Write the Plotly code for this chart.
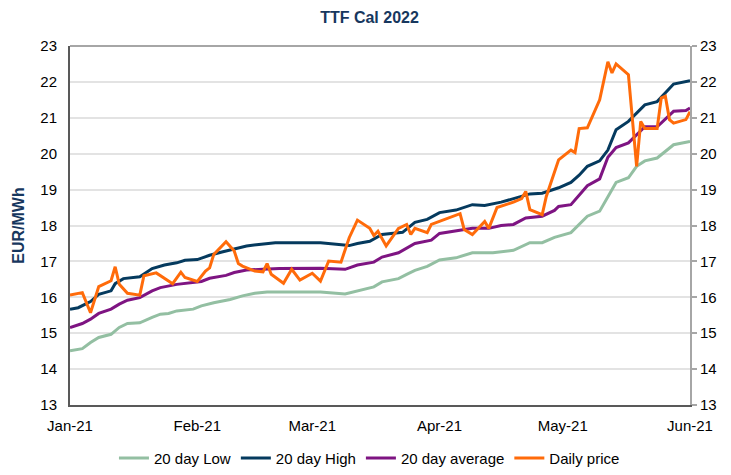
import plotly.graph_objects as go

# TTF Cal 2022 (EUR/MWh)
low_dates = ["2021-01-01", "2021-01-04", "2021-01-06", "2021-01-08", "2021-01-11", "2021-01-13",
             "2021-01-15", "2021-01-18", "2021-01-21", "2021-01-23", "2021-01-25", "2021-01-27",
             "2021-01-31", "2021-02-02", "2021-02-05", "2021-02-09", "2021-02-12", "2021-02-15",
             "2021-02-18", "2021-03-03", "2021-03-09", "2021-03-12", "2021-03-16", "2021-03-18",
             "2021-03-22", "2021-03-24", "2021-03-26", "2021-03-29", "2021-04-01", "2021-04-05",
             "2021-04-09", "2021-04-14", "2021-04-19", "2021-04-23", "2021-04-26", "2021-04-29",
             "2021-05-03", "2021-05-07", "2021-05-10", "2021-05-14", "2021-05-17", "2021-05-19",
             "2021-05-21", "2021-05-24", "2021-05-26", "2021-05-28", "2021-06-01"]
low_vals = [14.51, 14.57, 14.74, 14.88, 14.97, 15.16,
            15.27, 15.29, 15.44, 15.53, 15.55, 15.62,
            15.67, 15.76, 15.85, 15.94, 16.04, 16.11,
            16.15, 16.15, 16.09, 16.18, 16.29, 16.43,
            16.52, 16.64, 16.75, 16.86, 17.04, 17.10,
            17.24, 17.24, 17.31, 17.52, 17.52, 17.67,
            17.80, 18.26, 18.40, 19.20, 19.33, 19.65,
            19.80, 19.88, 20.07, 20.25, 20.34]

high_dates = ["2021-01-01", "2021-01-03", "2021-01-06", "2021-01-08", "2021-01-11", "2021-01-12",
              "2021-01-14", "2021-01-18", "2021-01-21", "2021-01-24", "2021-01-27", "2021-01-29",
              "2021-02-01", "2021-02-04", "2021-02-07", "2021-02-10", "2021-02-13", "2021-02-16",
              "2021-02-20", "2021-03-03", "2021-03-08", "2021-03-10", "2021-03-12", "2021-03-15",
              "2021-03-18", "2021-03-23", "2021-03-26", "2021-03-29", "2021-04-01", "2021-04-05",
              "2021-04-09", "2021-04-12", "2021-04-16", "2021-04-21", "2021-04-23", "2021-04-26",
              "2021-04-30", "2021-05-03", "2021-05-05", "2021-05-07", "2021-05-10", "2021-05-12",
              "2021-05-14", "2021-05-17", "2021-05-19", "2021-05-21", "2021-05-24", "2021-05-26",
              "2021-05-28", "2021-06-01"]
high_vals = [15.67, 15.71, 15.88, 16.08, 16.18, 16.38,
             16.52, 16.57, 16.80, 16.90, 16.96, 17.03,
             17.05, 17.17, 17.26, 17.35, 17.43, 17.47,
             17.52, 17.52, 17.47, 17.44, 17.50, 17.56,
             17.75, 17.81, 18.09, 18.17, 18.36, 18.43,
             18.58, 18.56, 18.65, 18.80, 18.88, 18.90,
             19.05, 19.20, 19.40, 19.65, 19.80, 20.10,
             20.67, 20.90, 21.13, 21.36, 21.45, 21.70,
             21.94, 22.03]

avg_dates = ["2021-01-01", "2021-01-04", "2021-01-06", "2021-01-08", "2021-01-11", "2021-01-13",
             "2021-01-15", "2021-01-18", "2021-01-21", "2021-01-23", "2021-01-27", "2021-01-30",
             "2021-02-02", "2021-02-04", "2021-02-08", "2021-02-10", "2021-02-13", "2021-02-17",
             "2021-02-21", "2021-03-03", "2021-03-09", "2021-03-12", "2021-03-16", "2021-03-18",
             "2021-03-22", "2021-03-26", "2021-03-30", "2021-04-01", "2021-04-05", "2021-04-09",
             "2021-04-13", "2021-04-16", "2021-04-19", "2021-04-22", "2021-04-26", "2021-04-29",
             "2021-04-30", "2021-05-03", "2021-05-07", "2021-05-10", "2021-05-12", "2021-05-14",
             "2021-05-17", "2021-05-19", "2021-05-21", "2021-05-24", "2021-05-26", "2021-05-28",
             "2021-05-31", "2021-06-01"]
avg_vals = [15.16, 15.27, 15.39, 15.55, 15.67, 15.81,
            15.92, 15.99, 16.18, 16.27, 16.36, 16.40,
            16.44, 16.53, 16.61, 16.69, 16.76, 16.78,
            16.80, 16.81, 16.78, 16.90, 16.98, 17.12,
            17.24, 17.50, 17.59, 17.78, 17.84, 17.92,
            17.92, 18.00, 18.03, 18.21, 18.26, 18.42,
            18.53, 18.58, 19.11, 19.30, 19.90, 20.17,
            20.30, 20.53, 20.75, 20.75, 20.97, 21.18,
            21.20, 21.27]

price_dates = ["2021-01-01", "2021-01-04", "2021-01-06", "2021-01-08", "2021-01-11", "2021-01-12",
               "2021-01-13", "2021-01-15", "2021-01-18", "2021-01-19", "2021-01-22", "2021-01-26",
               "2021-01-28", "2021-01-29", "2021-02-01", "2021-02-03", "2021-02-04", "2021-02-05",
               "2021-02-08", "2021-02-10", "2021-02-11", "2021-02-12", "2021-02-15", "2021-02-17",
               "2021-02-18", "2021-02-19", "2021-02-22", "2021-02-24", "2021-02-26", "2021-03-01",
               "2021-03-03", "2021-03-05", "2021-03-08", "2021-03-10", "2021-03-12", "2021-03-15",
               "2021-03-16", "2021-03-17", "2021-03-19", "2021-03-22", "2021-03-24", "2021-03-25",
               "2021-03-26", "2021-03-29", "2021-03-30", "2021-04-06", "2021-04-07", "2021-04-09",
               "2021-04-12", "2021-04-13", "2021-04-15", "2021-04-19", "2021-04-21", "2021-04-22",
               "2021-04-23", "2021-04-26", "2021-04-27", "2021-04-30", "2021-05-03", "2021-05-04",
               "2021-05-05", "2021-05-07", "2021-05-10", "2021-05-12", "2021-05-13", "2021-05-14",
               "2021-05-17", "2021-05-19", "2021-05-20", "2021-05-21", "2021-05-24", "2021-05-25",
               "2021-05-26", "2021-05-27", "2021-05-28", "2021-05-31", "2021-06-01"]
price_vals = [16.06, 16.13, 15.57, 16.30, 16.46, 16.85,
              16.36, 16.11, 16.06, 16.60, 16.68, 16.38,
              16.70, 16.55, 16.44, 16.73, 16.82, 17.19,
              17.55, 17.29, 16.94, 16.87, 16.73, 16.71,
              16.94, 16.64, 16.39, 16.78, 16.48, 16.67,
              16.45, 17.01, 16.98, 17.66, 18.15, 17.92,
              17.72, 17.84, 17.43, 17.92, 18.03, 17.75,
              17.92, 17.80, 18.03, 18.33, 17.89, 17.75,
              18.11, 17.92, 18.50, 18.65, 18.75, 18.95,
              18.44, 18.30, 18.81, 19.83, 20.10, 20.03,
              20.70, 20.72, 21.50, 22.56, 22.25, 22.50,
              22.20, 19.65, 20.90, 20.70, 20.70, 21.55,
              21.60, 20.95, 20.85, 20.95, 21.17]

y_ticks = list(range(13, 24))

NAVY = "#17375E"
FONT = "Liberation Sans, Arial, sans-serif"

fig = go.Figure()
fig.add_trace(go.Scatter(x=low_dates, y=low_vals, name="20 day Low", mode="lines",
                         line=dict(color="#93BFA2", width=3)))
fig.add_trace(go.Scatter(x=high_dates, y=high_vals, name="20 day High", mode="lines",
                         line=dict(color="#053A5E", width=3)))
fig.add_trace(go.Scatter(x=avg_dates, y=avg_vals, name="20 day average", mode="lines",
                         line=dict(color="#7E1482", width=3)))
# daily price sits on the right-hand axis (same scale), drawn on top
fig.add_trace(go.Scatter(x=price_dates, y=price_vals, name="Daily price", mode="lines",
                         line=dict(color="#FF6B0A", width=3), yaxis="y2"))

# page body adds an 8px offset, so the figure is 8px smaller than the window
fig.update_layout(
    width=723, height=467,
    margin=dict(l=62, r=41, t=38, b=70, autoexpand=False),
    paper_bgcolor="white", plot_bgcolor="white",
    font=dict(family=FONT, size=15, color="black"),
    title=dict(text="<b>TTF Cal 2022</b>", x=0.5, xanchor="center", y=0.979, yanchor="middle",
               font=dict(family=FONT, size=16, color=NAVY)),
    xaxis=dict(type="date", range=["2021-01-01", "2021-06-01"], dtick="M1", tick0="2021-01-01",
               tickformat="%b-%y", showgrid=False, showline=True, linecolor="#595959",
               linewidth=2, ticks="", ticklabelstandoff=6, zeroline=False, automargin=False),
    yaxis=dict(range=[13, 23], tickvals=y_ticks, showgrid=True, gridcolor="#E3E3E3",
               gridwidth=1.5, showline=True, linecolor="#595959", linewidth=2, ticks="",
               zeroline=False, ticklabelstandoff=8, automargin=False,
               title=dict(text="<b>EUR/MWh</b>", font=dict(family=FONT, size=16, color=NAVY),
                          standoff=12)),
    yaxis2=dict(range=[13, 23], tickvals=y_ticks, overlaying="y", side="right",
                showgrid=False, showline=True, linecolor="#A6A6A6", linewidth=2,
                ticks="outside", ticklen=5, tickcolor="#A6A6A6", tickwidth=1.5,
                zeroline=False, ticklabelstandoff=0, automargin=False),
    legend=dict(orientation="h", x=0.483, xanchor="center", y=-0.148, yanchor="middle",
                font=dict(family=FONT, size=15), itemwidth=30, traceorder="normal"),
    shapes=[
        # plot-area top border
        dict(type="line", xref="paper", yref="paper", x0=0, x1=1, y0=1, y1=1,
             line=dict(color="#A6A6A6", width=2)),
    ],
)

fig.write_html("out.html")
